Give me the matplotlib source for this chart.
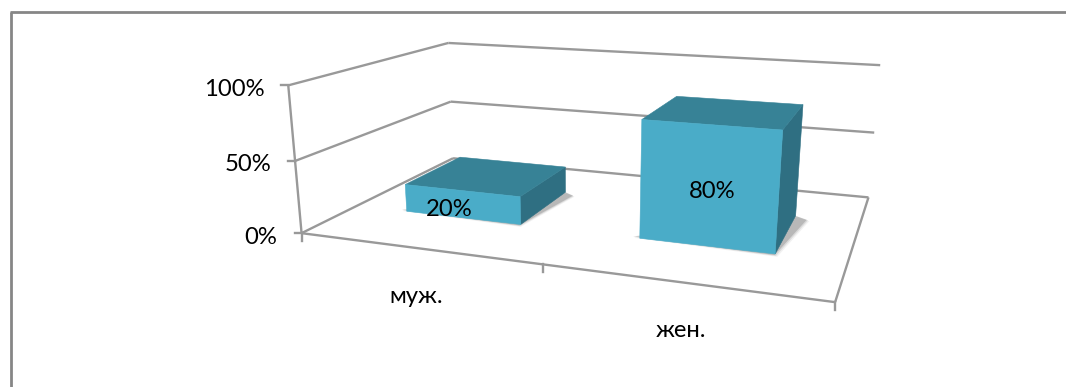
#!/usr/bin/env python3
"""3D-looking column chart drawn on a flat axes with a fitted projection."""

import matplotlib

matplotlib.use("Agg")

import matplotlib.pyplot as plt
from matplotlib.patches import Polygon
import numpy as np

CATEGORIES = ["муж.", "жен."]
VALUES = [20, 80]
VALUE_LABELS = ["20%", "80%"]
Y_TICKS = [0, 50, 100]
Y_TICK_LABELS = ["0%", "50%", "100%"]

# (category axis 0..2, depth 0..1, percent) -> picture pixel
CALIBRATION = [
    ((0, 0, 0), (302, 233)),
    ((2, 0, 0), (835, 302)),
    ((0, 1, 0), (453, 158)),
    ((2, 1, 0), (868, 197)),
    ((1, 0, 0), (543, 265)),
    ((0, 0, 50), (293, 161)),
    ((0, 1, 50), (452, 102)),
    ((2, 1, 50), (875, 133)),
    ((0, 0, 100), (290, 85)),
    ((0, 1, 100), (447, 43)),
    ((2, 1, 100), (880, 65)),
]

BAR_WIDTH = 0.51
BAR_SHIFT = -0.01
DEPTH_FRONT = 0.31
DEPTH_BACK = 0.70

LINE = "#999999"
FRONT = "#4aacc8"
TOP = "#378296"
SIDE = "#2f6f82"

FONT_SIZE = 17.2
LABEL_SHIFTS = [(-14, 5), (2, 5)]


def fit_camera(points):
    rows = []
    for (x, d, v), (px, py) in points:
        w = np.array([x, d, v / 100, 1.0])
        rows.append(np.r_[w, np.zeros(4), -px * w])
        rows.append(np.r_[np.zeros(4), w, -py * w])
    return np.linalg.svd(np.array(rows))[2][-1].reshape(3, 4)


CAMERA = fit_camera(CALIBRATION)


def project(x, d, v):
    u = CAMERA @ np.array([x, d, v / 100, 1.0])
    return u[:2] / u[2]


def draw_line(ax, start, end):
    a, b = project(*start), project(*end)
    ax.plot([a[0], b[0]], [a[1], b[1]], color=LINE, lw=1.7, solid_capstyle="butt")


def draw_bar(ax, center, value, label, shift):
    x0, x1 = center - BAR_WIDTH / 2, center + BAR_WIDTH / 2
    d0, d1 = DEPTH_FRONT, DEPTH_BACK

    # soft floor shadow
    shadow = [(x0 - 0.03, d0 + 0.01), (x1, d0 - 0.01), (x1 + 0.05, d1 - 0.03), (x1, d1)]
    for grow, alpha in ((0.012, 0.08), (0.006, 0.14), (0.0, 0.25)):
        pts = [project(x + grow, d - grow, 0) for x, d in shadow]
        ax.add_patch(Polygon(pts, closed=True, fc="#555555", ec="none", alpha=alpha, zorder=3))

    faces = [
        ([(x1, d0, 0), (x1, d1, 0), (x1, d1, value), (x1, d0, value)], SIDE),
        ([(x0, d0, value), (x1, d0, value), (x1, d1, value), (x0, d1, value)], TOP),
        ([(x0, d0, 0), (x1, d0, 0), (x1, d0, value), (x0, d0, value)], FRONT),
    ]
    for corners, color in faces:
        pts = [project(*c) for c in corners]
        ax.add_patch(Polygon(pts, closed=True, fc=color, ec=color, lw=0.4, zorder=4))

    # label sits about the middle of the front face
    pos = (project(x0, d0, value / 2) + project(x1, d0, value / 2)) / 2
    ax.text(pos[0] + shift[0], pos[1] + shift[1], label, ha="center", va="center",
            fontsize=FONT_SIZE, color="black", zorder=5)


plt.rcParams["font.family"] = ["Lato", "Open Sans", "DejaVu Sans"]

fig = plt.figure(figsize=(10.66, 3.87), dpi=100)
ax = fig.add_axes([0, 0, 1, 1])
ax.set_xlim(0, 1066)
ax.set_ylim(387, 0)
ax.axis("off")

# chart frame
ax.plot([11, 11], [387, 12], color="#868686", lw=2, solid_capstyle="butt")
ax.plot([10, 1066], [12, 12], color="#868686", lw=2, solid_capstyle="butt")

# walls and floor
for tick in Y_TICKS:
    draw_line(ax, (0, 0, tick), (0, 1, tick))
    draw_line(ax, (0, 1, tick), (2, 1, tick))
draw_line(ax, (0, 0, 0), (0, 0, 100))
draw_line(ax, (0, 0, 0), (2, 0, 0))
draw_line(ax, (2, 0, 0), (2, 1, 0))

for tick, label in zip(Y_TICKS, Y_TICK_LABELS):
    p = project(0, 0, tick)
    ax.plot([p[0] - 7, p[0]], [p[1], p[1]], color=LINE, lw=1.7)
    ax.text(p[0] - 24, p[1] + 4, label, ha="right", va="center", fontsize=FONT_SIZE)

for x in range(len(CATEGORIES) + 1):
    p = project(x, 0, 0)
    ax.plot([p[0], p[0]], [p[1], p[1] + 8], color=LINE, lw=1.7)

for i, (name, value, label) in enumerate(zip(CATEGORIES, VALUES, VALUE_LABELS)):
    draw_bar(ax, i + 0.5 + BAR_SHIFT, value, label, LABEL_SHIFTS[i])
    p = project(i + 0.5, 0, 0)
    ax.text(p[0] - 1, p[1] + 48.5, name, ha="center", va="center", fontsize=FONT_SIZE)

fig.savefig("out.png", dpi=100)
